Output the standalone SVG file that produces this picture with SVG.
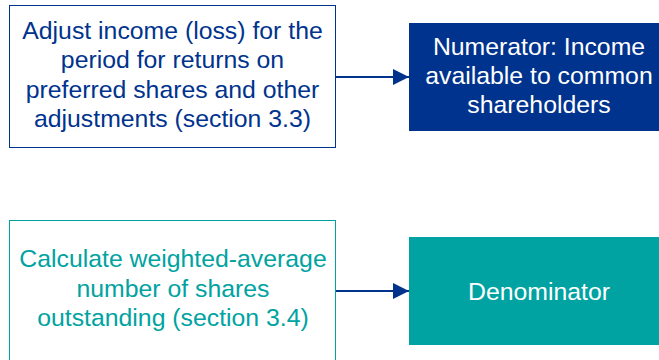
<svg xmlns="http://www.w3.org/2000/svg" width="659" height="360" viewBox="0 0 659 360">
<defs>
<style>
text{font-family:"Liberation Sans",Arial,sans-serif;font-size:24.8px;text-anchor:middle}
.navyT{fill:#00338D}
.tealT{fill:#00A3A1}
.white{fill:#FFFFFF}
.conn{stroke:#00338D;stroke-width:2;fill:none}
</style>
<marker id="arr" viewBox="0 0 16 16" refX="16" refY="8" markerWidth="16" markerHeight="16" markerUnits="userSpaceOnUse" orient="auto">
<path d="M0,0 L16,8 L0,16 Z" fill="#00338D"/>
</marker>
</defs>
<rect width="659" height="360" fill="#FFFFFF"/>
<g id="adjust-income">
<rect x="9.5" y="5.5" width="326" height="142" fill="#FFFFFF" stroke="#00338D" stroke-width="1"/>
<text class="navyT" x="172.5" y="39">Adjust income (loss) for the</text>
<text class="navyT" x="172.5" y="68.3">period for returns on</text>
<text class="navyT" x="172.5" y="97.6">preferred shares and other</text>
<text class="navyT" x="172.5" y="127">adjustments (section 3.3)</text>
</g>
<g id="numerator">
<rect x="409" y="23" width="260" height="108" fill="#00338D"/>
<text class="white" x="539" y="55">Numerator: Income</text>
<text class="white" x="539" y="84">available to common</text>
<text class="white" x="539" y="113">shareholders</text>
</g>
<g id="calculate-shares">
<rect x="9.5" y="220.5" width="326" height="150" fill="#FFFFFF" stroke="#00A3A1" stroke-width="1"/>
<text class="tealT" x="173" y="267">Calculate weighted-average</text>
<text class="tealT" x="173" y="296.5">number of shares</text>
<text class="tealT" x="173" y="326">outstanding (section 3.4)</text>
</g>
<g id="denominator">
<rect x="409" y="237" width="260" height="108" fill="#00A3A1"/>
<text class="white" x="539" y="300">Denominator</text>
</g>
<g id="connectors">
<line class="conn" x1="336" y1="77" x2="409" y2="77" marker-end="url(#arr)"/>
<line class="conn" x1="336" y1="291" x2="409" y2="291" marker-end="url(#arr)"/>
</g>
</svg>
